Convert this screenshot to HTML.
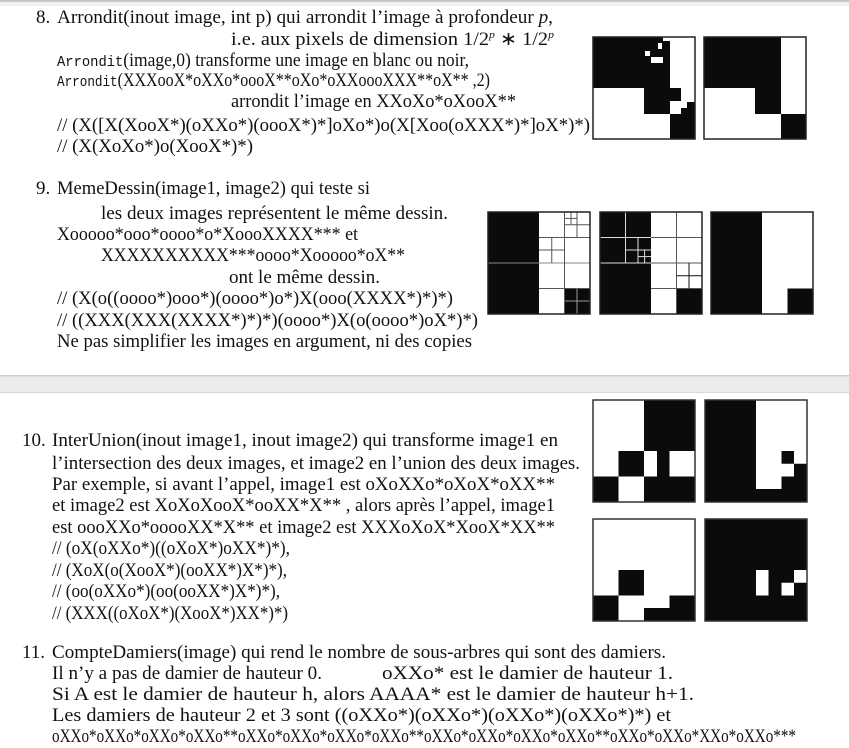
<!DOCTYPE html>
<html><head><meta charset="utf-8"><style>
html,body{margin:0;padding:0;background:#fff;}
svg{display:block}
text{font-family:"Liberation Serif",serif;font-size:19px;fill:#111}
.m{font-family:"Liberation Mono",monospace}
</style></head><body>
<svg width="849" height="748" viewBox="0 0 849 748" xmlns="http://www.w3.org/2000/svg">
<rect x="0" y="0" width="849" height="748" fill="#fff"/>
<rect x="0" y="0" width="849" height="2" fill="#c8c8c8"/>
<rect x="0" y="2" width="849" height="4" fill="#f2f2f2"/>
<rect x="0" y="376" width="849" height="17" fill="#ececec"/>
<rect x="0" y="375" width="849" height="1.5" fill="#cfcfcf"/>
<rect x="0" y="392" width="849" height="1" fill="#d8d8d8"/>

<!-- Item 8 -->
<text x="36" y="23">8.</text>
<text x="57" y="23" textLength="496" lengthAdjust="spacingAndGlyphs">Arrondit(inout image, int p) qui arrondit l’image à profondeur <tspan font-style="italic">p</tspan>,</text>
<text x="231" y="45" textLength="323" lengthAdjust="spacingAndGlyphs">i.e. aux pixels de dimension 1/2<tspan font-size="11" dy="-7" font-style="italic">p</tspan><tspan dy="7"> ∗ 1/2</tspan><tspan font-size="11" dy="-7" font-style="italic">p</tspan></text>
<text x="57" y="66" font-size="19" textLength="412" lengthAdjust="spacingAndGlyphs"><tspan class="m" font-size="15">Arrondit</tspan>(image,0) transforme une image en blanc ou noir,</text>
<text x="57" y="86" font-size="19" textLength="433" lengthAdjust="spacingAndGlyphs"><tspan class="m" font-size="15">Arrondit</tspan>(XXXooX*oXXo*oooX**oXo*oXXoooXXX**oX** ,2)</text>
<text x="231" y="107" textLength="285" lengthAdjust="spacingAndGlyphs">arrondit l’image en XXoXo*oXooX**</text>
<text x="57" y="131" textLength="533" lengthAdjust="spacingAndGlyphs">// (X([X(XooX*)(oXXo*)(oooX*)*]oXo*)o(X[Xoo(oXXX*)*]oX*)*)</text>
<text x="57" y="152" textLength="196" lengthAdjust="spacingAndGlyphs">// (X(XoXo*)o(XooX*)*)</text>

<!-- Item 9 -->
<text x="36" y="194">9.</text>
<text x="57" y="194" textLength="313" lengthAdjust="spacingAndGlyphs">MemeDessin(image1, image2) qui teste si</text>
<text x="101" y="219" textLength="347" lengthAdjust="spacingAndGlyphs">les deux images représentent le même dessin.</text>
<text x="57" y="240" textLength="301" lengthAdjust="spacingAndGlyphs">Xooooo*ooo*oooo*o*XoooXXXX*** et</text>
<text x="101" y="261" textLength="304" lengthAdjust="spacingAndGlyphs">XXXXXXXXXX***oooo*Xooooo*oX**</text>
<text x="229" y="283" textLength="151" lengthAdjust="spacingAndGlyphs">ont le même dessin.</text>
<text x="57" y="304" textLength="396" lengthAdjust="spacingAndGlyphs">// (X(o((oooo*)ooo*)(oooo*)o*)X(ooo(XXXX*)*)*)</text>
<text x="57" y="326" textLength="421" lengthAdjust="spacingAndGlyphs">// ((XXX(XXX(XXXX*)*)*)(oooo*)X(o(oooo*)oX*)*)</text>
<text x="57" y="347" textLength="415" lengthAdjust="spacingAndGlyphs">Ne pas simplifier les images en argument, ni des copies</text>

<!-- Item 10 -->
<text x="22" y="446">10.</text>
<text x="52" y="446" textLength="506" lengthAdjust="spacingAndGlyphs">InterUnion(inout image1, inout image2) qui transforme image1 en</text>
<text x="52" y="469" textLength="528" lengthAdjust="spacingAndGlyphs">l’intersection des deux images, et image2 en l’union des deux images.</text>
<text x="52" y="490" textLength="503" lengthAdjust="spacingAndGlyphs">Par exemple, si avant l’appel, image1 est oXoXXo*oXoX*oXX**</text>
<text x="52" y="511" textLength="503" lengthAdjust="spacingAndGlyphs">et image2 est XoXoXooX*ooXX*X** , alors après l’appel, image1</text>
<text x="52" y="533" textLength="503" lengthAdjust="spacingAndGlyphs">est oooXXo*ooooXX*X** et image2 est XXXoXoX*XooX*XX**</text>
<text x="52" y="554" textLength="238" lengthAdjust="spacingAndGlyphs">// (oX(oXXo*)((oXoX*)oXX*)*),</text>
<text x="52" y="576" textLength="235" lengthAdjust="spacingAndGlyphs">// (XoX(o(XooX*)(ooXX*)X*)*),</text>
<text x="52" y="597" textLength="228" lengthAdjust="spacingAndGlyphs">// (oo(oXXo*)(oo(ooXX*)X*)*),</text>
<text x="52" y="619" textLength="236" lengthAdjust="spacingAndGlyphs">// (XXX((oXoX*)(XooX*)XX*)*)</text>

<!-- Item 11 -->
<text x="22" y="658">11.</text>
<text x="52" y="658" textLength="614" lengthAdjust="spacingAndGlyphs">CompteDamiers(image) qui rend le nombre de sous-arbres qui sont des damiers.</text>
<text x="52" y="679" textLength="270" lengthAdjust="spacingAndGlyphs">Il n’y a pas de damier de hauteur 0.</text>
<text x="382" y="679" textLength="291" lengthAdjust="spacingAndGlyphs">oXXo* est le damier de hauteur 1.</text>
<text x="52" y="700" textLength="642" lengthAdjust="spacingAndGlyphs">Si A est le damier de hauteur h, alors AAAA* est le damier de hauteur h+1.</text>
<text x="52" y="721" textLength="619" lengthAdjust="spacingAndGlyphs">Les damiers de hauteur 2 et 3 sont ((oXXo*)(oXXo*)(oXXo*)(oXXo*)*) et</text>
<text x="52" y="742" font-size="14" textLength="744" lengthAdjust="spacingAndGlyphs">oXXo*oXXo*oXXo*oXXo**oXXo*oXXo*oXXo*oXXo**oXXo*oXXo*oXXo*oXXo**oXXo*oXXo*XXo*oXXo***</text>

<!-- Images -->
<g fill="#0b0b0b">
<g transform="translate(593,37)">
<rect x="0" y="0" width="77" height="51"/>
<rect fill="#fff" x="52" y="14" width="5" height="5"/>
<rect fill="#fff" x="58" y="20" width="12" height="6"/>
<rect fill="#fff" x="65" y="6" width="4" height="6"/>
<rect fill="#fff" x="70" y="0" width="7" height="4"/>
<rect x="51" y="51" width="26" height="26"/>
<rect x="77" y="51" width="11" height="13"/>
<rect x="94" y="65" width="8" height="12"/>
<rect x="88" y="71" width="6" height="6"/>
<rect x="77" y="77" width="25" height="25"/>
<rect x="0" y="0" width="102" height="102" fill="none" stroke="#222" stroke-width="1.5"/>
</g>
<g transform="translate(704,37)">
<rect x="0" y="0" width="77" height="51"/>
<rect x="51" y="51" width="26" height="26"/>
<rect x="77" y="77" width="25" height="25"/>
<rect x="0" y="0" width="102" height="102" fill="none" stroke="#222" stroke-width="1.5"/>
</g>
<g transform="translate(488,212)">
<rect x="0" y="0" width="51" height="102"/>
<rect x="76.5" y="76.5" width="25.5" height="25.5"/>
<g stroke="#555" stroke-width="1" fill="none">
<line x1="0" y1="51" x2="102" y2="51" stroke="#888"/>
<line x1="51" y1="25.5" x2="102" y2="25.5"/>
<line x1="51" y1="76.5" x2="102" y2="76.5"/>
<line x1="76.5" y1="0" x2="76.5" y2="102"/>
<line x1="89" y1="0" x2="89" y2="25.5"/>
<line x1="76.5" y1="12.75" x2="102" y2="12.75"/>
<line x1="83" y1="0" x2="83" y2="12.75"/>
<line x1="76.5" y1="6.4" x2="89" y2="6.4"/>
<line x1="63.75" y1="25.5" x2="63.75" y2="51"/>
<line x1="51" y1="38" x2="76.5" y2="38"/>
<line x1="89" y1="76.5" x2="89" y2="102" stroke="#999"/>
<line x1="76.5" y1="89" x2="102" y2="89" stroke="#999"/>
</g>
<rect x="0" y="0" width="102" height="102" fill="none" stroke="#222" stroke-width="1.5"/>
</g>
<g transform="translate(600,212)">
<rect x="0" y="0" width="51" height="102"/>
<rect x="76.5" y="76.5" width="25.5" height="25.5"/>
<g stroke="#ddd" stroke-width="1" fill="none">
<line x1="25.5" y1="0" x2="25.5" y2="51"/>
<line x1="0" y1="25.5" x2="51" y2="25.5"/>
<line x1="0" y1="51" x2="51" y2="51"/>
<line x1="38" y1="25.5" x2="38" y2="51"/>
<line x1="25.5" y1="38" x2="51" y2="38"/>
<line x1="44.6" y1="38" x2="44.6" y2="51"/>
<line x1="38" y1="44.6" x2="51" y2="44.6"/>
</g>
<g stroke="#555" stroke-width="1" fill="none">
<line x1="76.5" y1="0" x2="76.5" y2="102"/>
<line x1="51" y1="25.5" x2="102" y2="25.5"/>
<line x1="51" y1="51" x2="102" y2="51"/>
<line x1="51" y1="76.5" x2="102" y2="76.5"/>
<line x1="89" y1="51" x2="89" y2="76.5" stroke="#111"/>
<line x1="76.5" y1="63.75" x2="102" y2="63.75" stroke="#111"/>
</g>
<rect x="0" y="0" width="102" height="102" fill="none" stroke="#222" stroke-width="1.5"/>
</g>
<g transform="translate(711,212)">
<rect x="0" y="0" width="51" height="102"/>
<rect x="76.5" y="76.5" width="25.5" height="25.5"/>
<rect x="0" y="0" width="102" height="102" fill="none" stroke="#222" stroke-width="1.5"/>
</g>
<g transform="translate(593,400)">
<rect x="51" y="0" width="51" height="51"/>
<rect x="25.5" y="51" width="25.5" height="25.5"/>
<rect x="0" y="76.5" width="25.5" height="25.5"/>
<rect x="64" y="51" width="12.5" height="25.5"/>
<rect x="51" y="76.5" width="51" height="25.5"/>
<rect x="0" y="0" width="102" height="102" fill="none" stroke="#333" stroke-width="1.5"/>
</g>
<g transform="translate(705,400)">
<rect x="0" y="0" width="51" height="102"/>
<rect x="76.5" y="51" width="12.5" height="12.75"/>
<rect x="89" y="63.75" width="13" height="12.75"/>
<rect x="51" y="89" width="25.5" height="13"/>
<rect x="76.5" y="76.5" width="25.5" height="25.5"/>
<rect x="0" y="0" width="102" height="102" fill="none" stroke="#333" stroke-width="1.5"/>
</g>
<g transform="translate(593,519)">
<rect x="25.5" y="51" width="25.5" height="25.5"/>
<rect x="0" y="76.5" width="25.5" height="25.5"/>
<rect x="51" y="89" width="25.5" height="13"/>
<rect x="76.5" y="76.5" width="25.5" height="25.5"/>
<rect x="0" y="0" width="102" height="102" fill="none" stroke="#333" stroke-width="1.5"/>
</g>
<g transform="translate(705,519)">
<rect x="0" y="0" width="102" height="102"/>
<rect fill="#fff" x="51" y="51" width="12.5" height="25.5"/>
<rect fill="#fff" x="89" y="51" width="13" height="12.75"/>
<rect fill="#fff" x="76.5" y="63.75" width="12.5" height="12.75"/>
<rect x="0" y="0" width="102" height="102" fill="none" stroke="#333" stroke-width="1.5"/>
</g>
</g>
</svg>
</body></html>
